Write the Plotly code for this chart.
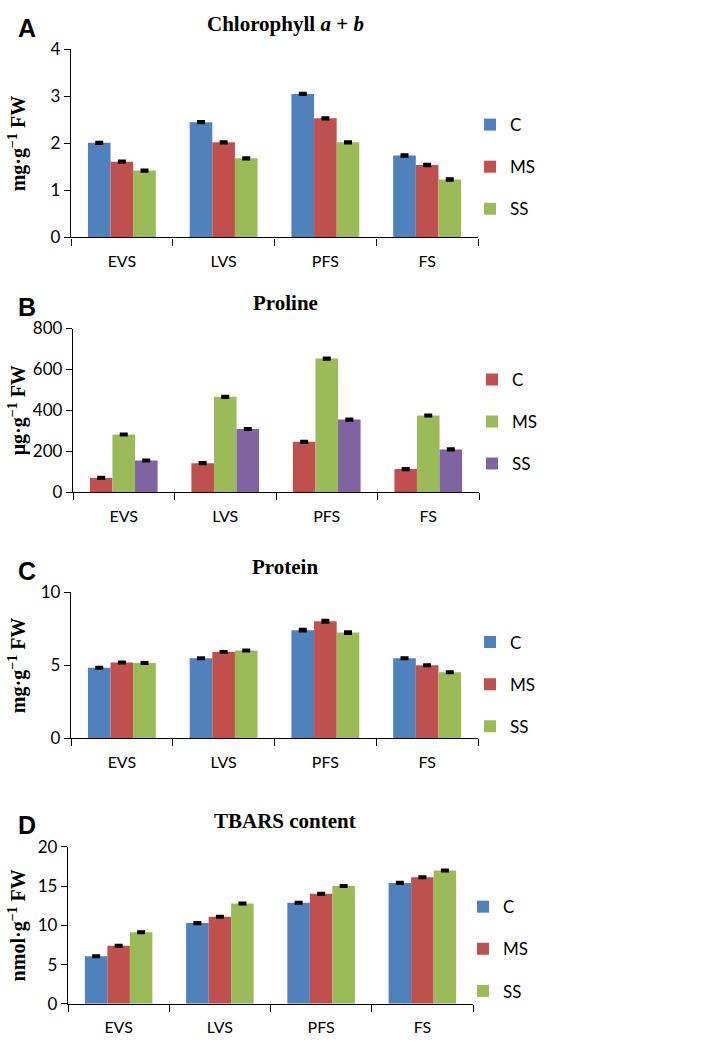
import plotly.graph_objects as go

stages = ["EVS", "LVS", "PFS", "FS"]
groups = ["C", "MS", "SS"]

chl_C = [2.01, 2.45, 3.05, 1.74]
chl_MS = [1.61, 2.02, 2.53, 1.54]
chl_SS = [1.42, 1.68, 2.02, 1.23]
chl_err = [0.02, 0.02, 0.02, 0.02]

pro_C = [70, 142, 246, 113]
pro_MS = [282, 466, 653, 375]
pro_SS = [155, 309, 355, 209]
pro_err = [4, 4, 4, 4]

prot_C = [4.83, 5.48, 7.40, 5.48]
prot_MS = [5.19, 5.91, 8.01, 4.99]
prot_SS = [5.15, 6.00, 7.23, 4.52]
prot_err = [0.05, 0.05, 0.08, 0.05]

tb_C = [6.07, 10.29, 12.89, 15.42]
tb_MS = [7.41, 11.09, 14.02, 16.13]
tb_SS = [9.12, 12.80, 15.02, 17.00]
tb_err = [0.1, 0.1, 0.1, 0.1]

BLUE, RED, GREEN, PURPLE = "#4F81BD", "#C0504D", "#9BBB59", "#8064A2"

panels = [
    dict(letter="A", title="Chlorophyll <i>a</i> + <i>b</i>", ytitle="mg·g<sup>−1</sup> FW",
         series=[chl_C, chl_MS, chl_SS], err=chl_err, colors=[BLUE, RED, GREEN],
         rng=[0, 4], dtick=1, top=39, bot=231, left=71, right=478, leg=112, legx=470),
    dict(letter="B", title="Proline", ytitle="μg·g<sup>−1</sup> FW",
         series=[pro_C, pro_MS, pro_SS], err=pro_err, colors=[RED, GREEN, PURPLE],
         rng=[0, 800], dtick=200, top=324, bot=491, left=73, right=479, leg=372, legx=472),
    dict(letter="C", title="Protein", ytitle="mg·g<sup>−1</sup> FW",
         series=[prot_C, prot_MS, prot_SS], err=prot_err, colors=[BLUE, RED, GREEN],
         rng=[0, 10], dtick=5, top=593, bot=742, left=71, right=478, leg=640, legx=470),
    dict(letter="D", title="TBARS content", ytitle="nmol·g<sup>−1</sup> FW",
         series=[tb_C, tb_MS, tb_SS], err=tb_err, colors=[BLUE, RED, GREEN],
         rng=[0, 20], dtick=5, top=853, bot=1013, left=68, right=473, leg=910, legx=463),
]

W, H = 709, 1052
fig = go.Figure()
FAM = "Lato, 'Open Sans', sans-serif"
annotations = []
layout = {}

for i, p in enumerate(panels):
    n = i + 1
    xa = "x" if n == 1 else f"x{n}"
    ya = "y" if n == 1 else f"y{n}"
    legname = "legend" if n == 1 else f"legend{n}"
    for g, vals, col in zip(groups, p["series"], p["colors"]):
        fig.add_trace(go.Bar(
            x=stages, y=vals, name=g, marker=dict(color=col, line=dict(width=0)),
            error_y=dict(type="data", array=p["err"], visible=True, color="#000", thickness=2.5, width=4),
            xaxis=xa, yaxis=ya, legend=legname, legendgroup=f"{n}{g}",
        ))
    xkey = "xaxis" if n == 1 else f"xaxis{n}"
    ykey = "yaxis" if n == 1 else f"yaxis{n}"
    layout[xkey] = dict(
        domain=[p["left"] / W, p["right"] / W], anchor=ya,
        showline=True, linecolor="#000", linewidth=1.3, ticks="outside", tickson="boundaries",
        ticklen=7, tickcolor="#000", tickwidth=1.3, showgrid=False, ticklabelstandoff=9,
        tickfont=dict(family=FAM, size=16, color="#000"), fixedrange=True,
    )
    layout[ykey] = dict(
        domain=[1 - p["bot"] / H, 1 - p["top"] / H], anchor=xa, range=p["rng"], dtick=p["dtick"],
        showline=True, linecolor="#000", linewidth=1.3, ticks="outside", ticklen=6,
        tickcolor="#000", tickwidth=1.3, showgrid=False, zeroline=False,
        tickfont=dict(family=FAM, size=17, color="#000"), fixedrange=True,
    )
    layout[legname] = dict(
        x=p["legx"] / W, y=1 - (p["leg"] - 14) / H, xanchor="left", yanchor="top", bgcolor="rgba(0,0,0,0)",
        font=dict(family=FAM, size=17, color="#000"),
        tracegroupgap=17, itemwidth=30,
    )
    annotations.append(dict(text=f"<b>{p['letter']}</b>", x=27 / W, y=1 - (p["top"] - 22) / H,
                            xref="paper", yref="paper", showarrow=False, xanchor="center", yanchor="middle",
                            font=dict(family="Liberation Sans, Arial, sans-serif", size=25, color="#000")))
    annotations.append(dict(text=f"<b>{p['title']}</b>", x=285 / W, y=1 - (p["top"] - 26) / H,
                            xref="paper", yref="paper", showarrow=False, xanchor="center", yanchor="middle",
                            font=dict(family="Liberation Serif, 'Times New Roman', serif", size=21, color="#000")))
    annotations.append(dict(text=f"<b>{p['ytitle']}</b>", x=17 / W, y=1 - (p["top"] + p["bot"]) / 2 / H,
                            xref="paper", yref="paper", showarrow=False, xanchor="center", yanchor="middle",
                            textangle=-90,
                            font=dict(family="Liberation Serif, 'Times New Roman', serif", size=20, color="#000")))

fig.update_layout(
    width=W, height=H, margin=dict(l=0, r=0, t=0, b=0),
    plot_bgcolor="white", paper_bgcolor="white",
    barmode="group", bargap=0.333, bargroupgap=0,
    annotations=annotations, showlegend=True,
    **layout,
)

fig.write_html("out.html", config={"displayModeBar": False},
               post_script="document.body.style.margin='0';document.body.style.overflow='hidden';")
